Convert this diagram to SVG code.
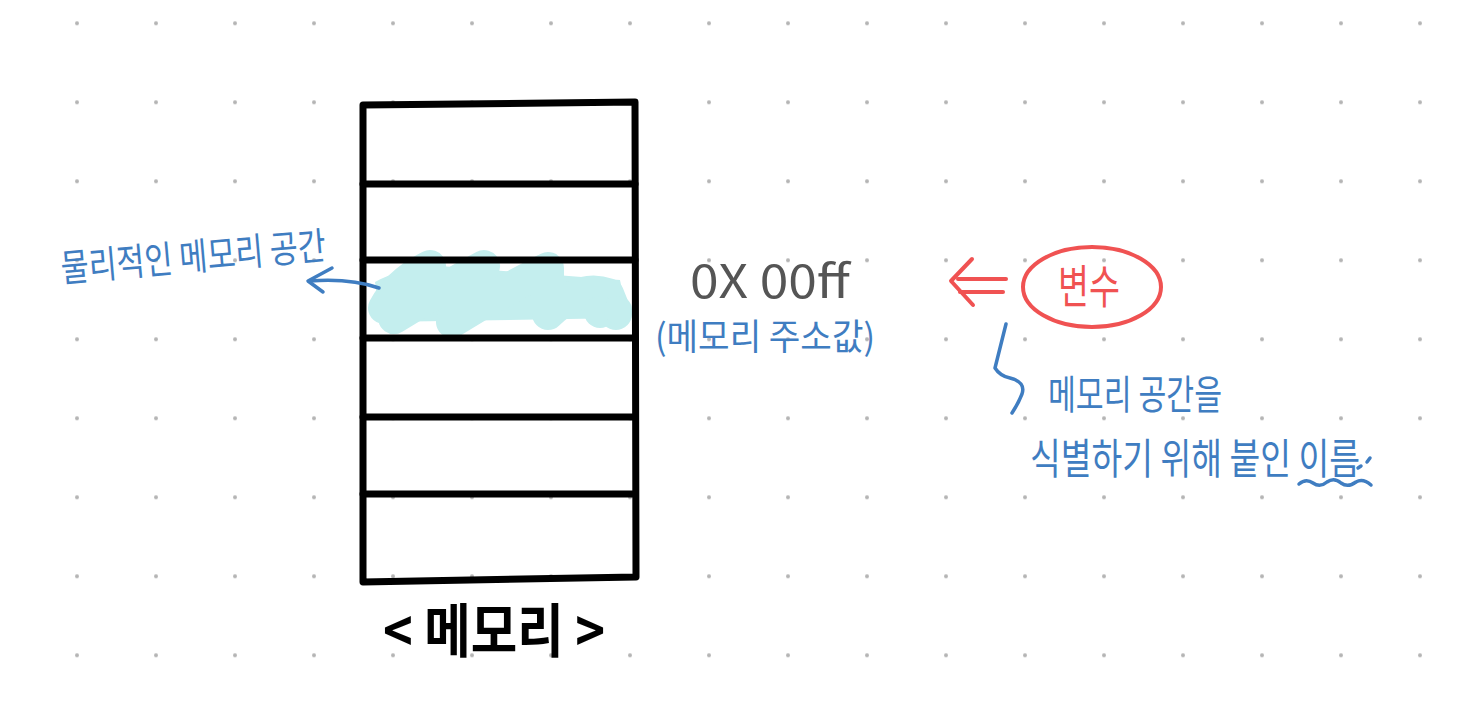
<svg xmlns="http://www.w3.org/2000/svg" width="1467" height="721" viewBox="0 0 1467 721">
<defs>
<pattern id="dots" x="-2" y="23.3" width="79" height="79" patternUnits="userSpaceOnUse">
<circle cx="0" cy="0" r="2" fill="#b4b4b4"/>
<circle cx="79" cy="0" r="2" fill="#b4b4b4"/>
<circle cx="0" cy="79" r="2" fill="#b4b4b4"/>
<circle cx="79" cy="79" r="2" fill="#b4b4b4"/>
</pattern>
</defs>
<style>
.box{fill:none;stroke:#000;stroke-width:7;stroke-linecap:round;stroke-linejoin:round}
.blue{fill:none;stroke:#3f7dc1;stroke-width:3.5;stroke-linecap:round;stroke-linejoin:round}
.red{fill:none;stroke:#f05252;stroke-width:4;stroke-linecap:round;stroke-linejoin:round}
.hand{font-family:"Noto Sans CJK KR","Noto Sans",sans-serif}
.tblue{fill:#3f7dc1}
.cy{fill:#c4eeee}
</style>
<rect width="1467" height="721" fill="#fff"/>
<rect width="1467" height="721" fill="url(#dots)"/>

<g id="highlight">
<path d="M375,282 Q400,268 440,266 L620,280 L628,318 L380,322 Z" class="cy"/>
<path d="M384,308 Q398,282 430,266 L394,318 Q440,290 484,266 L452,322 Q500,292 548,268 L548,314 Q580,284 608,294 L616,314" fill="none" stroke="#c4eeee" stroke-width="32" stroke-linecap="round" stroke-linejoin="round"/>
<circle cx="600" cy="312" r="16" class="cy"/>
<circle cx="618" cy="310" r="14" class="cy"/>
</g>

<g id="memory">
<path class="box" d="M363,105 L635,102 L636,577 L363,582 Z"/>
<path class="box" d="M363,184 L635,184"/>
<path class="box" d="M363,260 L635,260"/>
<path class="box" d="M363,338 L635,338"/>
<path class="box" d="M363,417 L635,417"/>
<path class="box" d="M363,494 L635,494"/>
</g>

<g id="memory-label">
<text class="hand" x="494" y="652" font-size="58" font-weight="bold" text-anchor="middle" textLength="222" lengthAdjust="spacingAndGlyphs">&lt; 메모리 &gt;</text>
</g>

<g id="physical-label">
<text class="hand tblue" x="62" y="282" font-size="38" transform="rotate(-5 62 282)" textLength="266" lengthAdjust="spacingAndGlyphs">물리적인 메모리 공간</text>
</g>

<g id="address">
<text class="hand" x="690" y="298" font-size="46" fill="#555" textLength="160" lengthAdjust="spacingAndGlyphs">0X 00ff</text>
<text class="hand tblue" x="655" y="350" font-size="36" textLength="220" lengthAdjust="spacingAndGlyphs">(메모리 주소값)</text>
</g>

<g id="variable">
<ellipse class="red" cx="1092" cy="287" rx="69" ry="40"/>
<text class="hand" x="1089" y="303" font-size="46" fill="#f05252" text-anchor="middle" textLength="62" lengthAdjust="spacingAndGlyphs">변수</text>
</g>

<g id="variable-desc">
<text class="hand tblue" x="1048" y="409" font-size="40" textLength="174" lengthAdjust="spacingAndGlyphs">메모리 공간을</text>
<text class="hand tblue" x="1030" y="474" font-size="42" textLength="330" lengthAdjust="spacingAndGlyphs">식별하기 위해 붙인 이름</text>
<path class="blue" d="M1299,484 Q1306,478 1313,483 Q1320,488 1327,482 Q1334,477 1341,483 Q1348,488 1356,482 Q1363,478 1371,485"/>
<path class="blue" d="M1358,468 L1361,466 M1367,462 L1370,458"/>
</g>

<g id="connectors">
<path class="blue" d="M379,288 Q350,278 310,281"/>
<path class="blue" d="M332,268 L308,281 L323,292"/>
<path class="red" d="M1006,279 L958,279"/>
<path class="red" d="M1003,292 L960,292"/>
<path class="red" d="M972,259 L951,281 L973,305"/>
<path class="blue" d="M1006,324 L995,368 Q1000,376 1010,378 Q1026,382 1022,394 Q1018,404 1012,413"/>
</g>
</svg>
